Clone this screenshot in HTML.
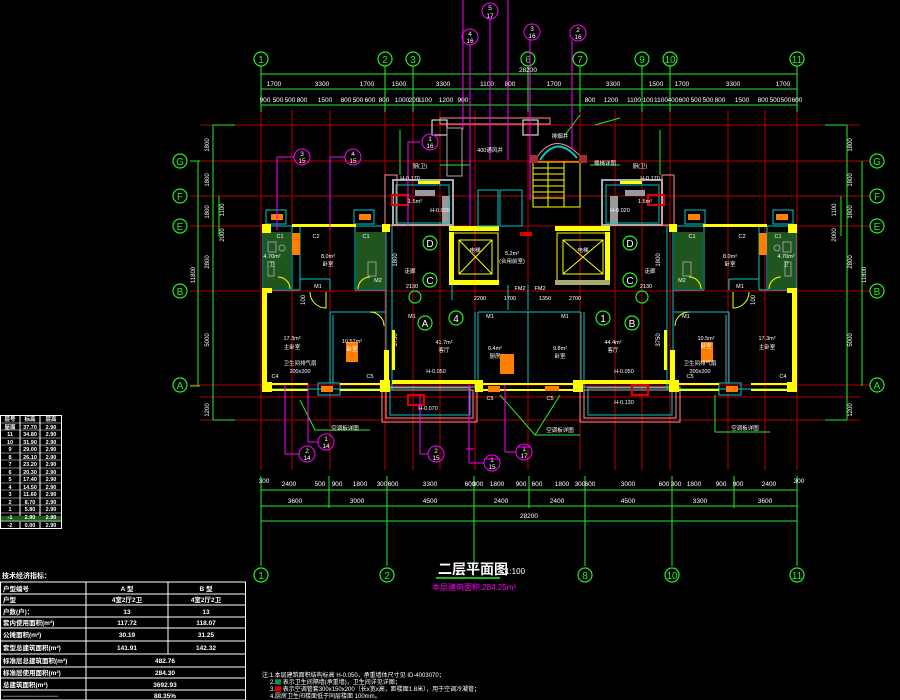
<!DOCTYPE html>
<html><head><meta charset="utf-8"><style>
html,body{margin:0;padding:0;background:#000;width:900px;height:700px;overflow:hidden}
svg{display:block}
text{font-family:"Liberation Sans","Noto Sans CJK SC",sans-serif;fill:#fff}
</style></head><body>
<svg width="900" height="700" viewBox="0 0 900 700" xmlns="http://www.w3.org/2000/svg">
<rect width="900" height="700" fill="#000"/>

<g stroke="#b40000" stroke-width="1">
<line x1="200" y1="125" x2="860" y2="125"/>
<line x1="190" y1="161" x2="870" y2="161"/>
<line x1="190" y1="196" x2="870" y2="196"/>
<line x1="190" y1="226" x2="870" y2="226"/>
<line x1="190" y1="291" x2="870" y2="291"/>
<line x1="190" y1="385" x2="870" y2="385"/>
<line x1="200" y1="397" x2="860" y2="397"/>
<line x1="200" y1="420" x2="860" y2="420"/>
<line x1="261" y1="110" x2="261" y2="470"/>
<line x1="292" y1="110" x2="292" y2="470"/>
<line x1="330" y1="110" x2="330" y2="470"/>
<line x1="385" y1="110" x2="385" y2="470"/>
<line x1="413" y1="110" x2="413" y2="470"/>
<line x1="440" y1="110" x2="440" y2="470"/>
<line x1="475" y1="110" x2="475" y2="470"/>
<line x1="528" y1="110" x2="528" y2="470"/>
<line x1="580" y1="110" x2="580" y2="470"/>
<line x1="615" y1="110" x2="615" y2="470"/>
<line x1="642" y1="110" x2="642" y2="470"/>
<line x1="670" y1="110" x2="670" y2="470"/>
<line x1="728" y1="110" x2="728" y2="470"/>
<line x1="765" y1="110" x2="765" y2="470"/>
<line x1="797" y1="110" x2="797" y2="470"/>
</g>

<g stroke="#22ee22" stroke-width="1" fill="none">
<line x1="261" y1="66" x2="261" y2="112"/><line x1="385" y1="66" x2="385" y2="112"/>
<line x1="413" y1="66" x2="413" y2="112"/><line x1="528" y1="66" x2="528" y2="112"/>
<line x1="580" y1="66" x2="580" y2="112"/><line x1="642" y1="66" x2="642" y2="112"/>
<line x1="670" y1="66" x2="670" y2="112"/><line x1="797" y1="66" x2="797" y2="112"/>
<line x1="261" y1="74" x2="797" y2="74"/>
<line x1="261" y1="89" x2="797" y2="89"/>
<line x1="261" y1="105" x2="797" y2="105"/>
<line x1="198" y1="161" x2="198" y2="386"/>
<line x1="213" y1="125" x2="213" y2="420"/>
<line x1="190" y1="161" x2="200" y2="161"/><line x1="190" y1="386" x2="200" y2="386"/>
<line x1="219" y1="196" x2="219" y2="236"/>
<line x1="213" y1="125" x2="235" y2="125"/><line x1="213" y1="420" x2="235" y2="420"/>
<line x1="862" y1="161" x2="862" y2="386"/>
<line x1="847" y1="125" x2="847" y2="420"/>
<line x1="841" y1="196" x2="841" y2="236"/>
<line x1="825" y1="125" x2="847" y2="125"/><line x1="825" y1="420" x2="847" y2="420"/>
<line x1="261" y1="476" x2="261" y2="566"/><line x1="387" y1="476" x2="387" y2="566"/>
<line x1="585" y1="476" x2="585" y2="566"/><line x1="672" y1="476" x2="672" y2="566"/>
<line x1="797" y1="476" x2="797" y2="566"/><line x1="474" y1="476" x2="474" y2="566"/>
<line x1="329" y1="476" x2="329" y2="508"/><line x1="529" y1="476" x2="529" y2="508"/>
<line x1="734" y1="476" x2="734" y2="508"/>
<line x1="261" y1="490" x2="797" y2="490"/>
<line x1="261" y1="506" x2="797" y2="506"/>
<line x1="261" y1="521" x2="797" y2="521"/>
<line x1="300" y1="400" x2="315" y2="430"/><line x1="315" y1="430" x2="370" y2="430"/>
<line x1="500" y1="395" x2="535" y2="435"/><line x1="560" y1="395" x2="535" y2="435"/><line x1="535" y1="435" x2="580" y2="435"/>
<line x1="715" y1="395" x2="715" y2="432"/><line x1="715" y1="432" x2="770" y2="432"/>
<line x1="565" y1="135" x2="580" y2="115"/><line x1="595" y1="125" x2="620" y2="118"/>
<line x1="400" y1="130" x2="400" y2="175"/><line x1="660" y1="130" x2="660" y2="175"/>
<line x1="440" y1="165" x2="470" y2="165"/><line x1="590" y1="165" x2="620" y2="165"/>
</g>

<g stroke="#22ee22" stroke-width="1.2" fill="none">
<circle cx="261" cy="59" r="7"/><circle cx="385" cy="59" r="7"/><circle cx="413" cy="59" r="7"/>
<circle cx="528" cy="59" r="7"/><circle cx="580" cy="59" r="7"/><circle cx="642" cy="59" r="7"/>
<circle cx="670" cy="59" r="7"/><circle cx="797" cy="59" r="7"/>
<circle cx="180" cy="161" r="7"/><circle cx="180" cy="196" r="7"/><circle cx="180" cy="226" r="7"/>
<circle cx="180" cy="291" r="7"/><circle cx="180" cy="385" r="7"/>
<circle cx="877" cy="161" r="7"/><circle cx="877" cy="196" r="7"/><circle cx="877" cy="226" r="7"/>
<circle cx="877" cy="291" r="7"/><circle cx="877" cy="385" r="7"/>
<circle cx="261" cy="575" r="7"/><circle cx="387" cy="575" r="7"/><circle cx="585" cy="575" r="7"/>
<circle cx="672" cy="575" r="7"/><circle cx="797" cy="575" r="7"/>
<circle cx="430" cy="243" r="7"/><circle cx="630" cy="243" r="7"/>
<circle cx="430" cy="280" r="7"/><circle cx="630" cy="280" r="7"/>
<circle cx="425" cy="323" r="7"/><circle cx="632" cy="323" r="7"/>
<circle cx="456" cy="318" r="7"/><circle cx="603" cy="318" r="7"/>
<circle cx="415" cy="297" r="6"/><circle cx="642" cy="297" r="6"/>
</g>
<g font-size="10" text-anchor="middle" style="fill:#22ee22">
<text x="261" y="63" style="fill:#22ee22">1</text><text x="385" y="63" style="fill:#22ee22">2</text><text x="413" y="63" style="fill:#22ee22">3</text>
<text x="528" y="63" style="fill:#22ee22">6</text><text x="580" y="63" style="fill:#22ee22">7</text><text x="642" y="63" style="fill:#22ee22">9</text>
<text x="670" y="63" style="fill:#22ee22">10</text><text x="797" y="63" style="fill:#22ee22">11</text>
<text x="180" y="165" style="fill:#22ee22">G</text><text x="180" y="200" style="fill:#22ee22">F</text><text x="180" y="230" style="fill:#22ee22">E</text>
<text x="180" y="295" style="fill:#22ee22">B</text><text x="180" y="389" style="fill:#22ee22">A</text>
<text x="877" y="165" style="fill:#22ee22">G</text><text x="877" y="200" style="fill:#22ee22">F</text><text x="877" y="230" style="fill:#22ee22">E</text>
<text x="877" y="295" style="fill:#22ee22">B</text><text x="877" y="389" style="fill:#22ee22">A</text>
<text x="261" y="579" style="fill:#22ee22">1</text><text x="387" y="579" style="fill:#22ee22">2</text><text x="585" y="579" style="fill:#22ee22">8</text>
<text x="672" y="579" style="fill:#22ee22">10</text><text x="797" y="579" style="fill:#22ee22">11</text>
<text x="430" y="247" style="fill:#fff">D</text><text x="630" y="247" style="fill:#fff">D</text>
<text x="430" y="284" style="fill:#fff">C</text><text x="630" y="284" style="fill:#fff">C</text>
<text x="425" y="327" style="fill:#fff">A</text><text x="632" y="327" style="fill:#fff">B</text>
<text x="456" y="322" style="fill:#fff">4</text><text x="603" y="322" style="fill:#fff">1</text>
</g>

<g font-size="6.5" text-anchor="middle">
<text x="528" y="72">28200</text>
<text x="274" y="86">1700</text><text x="322" y="86">3300</text><text x="367" y="86">1700</text><text x="399" y="86">1500</text>
<text x="443" y="86">3300</text><text x="487" y="86">1100</text><text x="510" y="86">800</text><text x="554" y="86">1700</text>
<text x="613" y="86">3300</text><text x="656" y="86">1500</text><text x="682" y="86">1700</text><text x="733" y="86">3300</text><text x="783" y="86">1700</text>
<text x="265" y="102">900</text><text x="278" y="102">500</text><text x="290" y="102">500</text><text x="302" y="102">800</text>
<text x="325" y="102">1500</text><text x="346" y="102">800</text><text x="358" y="102">500</text><text x="370" y="102">600</text>
<text x="384" y="102">800</text><text x="402" y="102">1000</text><text x="414" y="102">200</text><text x="425" y="102">1100</text>
<text x="446" y="102">1200</text><text x="463" y="102">900</text><text x="590" y="102">800</text><text x="611" y="102">1200</text>
<text x="634" y="102">1100</text><text x="648" y="102">100</text><text x="661" y="102">1100</text><text x="673" y="102">400</text>
<text x="684" y="102">600</text><text x="696" y="102">500</text><text x="708" y="102">500</text><text x="720" y="102">800</text>
<text x="742" y="102">1500</text><text x="763" y="102">800</text><text x="775" y="102">500</text><text x="786" y="102">500</text><text x="797" y="102">600</text>
<text x="264" y="483">300</text><text x="289" y="486">2400</text><text x="320" y="486">500</text><text x="337" y="486">900</text>
<text x="360" y="486">1800</text><text x="382" y="486">300</text><text x="393" y="486">600</text><text x="430" y="486">3300</text>
<text x="470" y="486">600</text><text x="478" y="486">300</text><text x="497" y="486">1800</text><text x="521" y="486">900</text>
<text x="537" y="486">600</text><text x="562" y="486">1800</text><text x="580" y="486">300</text><text x="590" y="486">600</text>
<text x="628" y="486">3000</text><text x="664" y="486">600</text><text x="676" y="486">300</text><text x="694" y="486">1800</text>
<text x="721" y="486">900</text><text x="738" y="486">900</text><text x="769" y="486">2400</text><text x="799" y="483">300</text>
<text x="295" y="503">3600</text><text x="357" y="503">3000</text><text x="430" y="503">4500</text><text x="501" y="503">2400</text>
<text x="557" y="503">2400</text><text x="628" y="503">4500</text><text x="700" y="503">3300</text><text x="765" y="503">3600</text>
<text x="529" y="518">28200</text>
</g>
<g font-size="6" text-anchor="middle">
<text transform="translate(209,145) rotate(-90)">1800</text><text transform="translate(209,180) rotate(-90)">1800</text>
<text transform="translate(209,212) rotate(-90)">1800</text><text transform="translate(209,262) rotate(-90)">2800</text>
<text transform="translate(209,340) rotate(-90)">5000</text><text transform="translate(209,410) rotate(-90)">1200</text>
<text transform="translate(195,275) rotate(-90)">11800</text>
<text transform="translate(224,210) rotate(-90)">1100</text><text transform="translate(224,235) rotate(-90)">2000</text>
<text transform="translate(852,145) rotate(-90)">1800</text><text transform="translate(852,180) rotate(-90)">1800</text>
<text transform="translate(852,212) rotate(-90)">1800</text><text transform="translate(852,262) rotate(-90)">2800</text>
<text transform="translate(852,340) rotate(-90)">5000</text><text transform="translate(852,410) rotate(-90)">1200</text>
<text transform="translate(866,275) rotate(-90)">11800</text>
<text transform="translate(836,210) rotate(-90)">1100</text><text transform="translate(836,235) rotate(-90)">2000</text>
<text transform="translate(397,260) rotate(-90)">1800</text><text transform="translate(660,260) rotate(-90)">1800</text>
<text transform="translate(397,340) rotate(-90)">3750</text><text transform="translate(660,340) rotate(-90)">3750</text>
<text transform="translate(305,300) rotate(-90)">100</text><text transform="translate(755,300) rotate(-90)">100</text>
</g>

<g fill="none" stroke-width="1">
<rect x="432" y="120" width="15" height="15" stroke="#fff"/>
<rect x="523" y="120" width="15" height="15" stroke="#fff"/>
<rect x="440" y="118" width="110" height="6" stroke="#ff9090"/>
<rect x="447" y="128" width="15" height="48" stroke="#aaa"/>
<path d="M535 160 Q 555 128 582 158" stroke="#ff9090"/>
<path d="M540 160 Q 557 134 577 158" stroke="#00c8c8" stroke-width="2"/>
<rect x="533" y="162" width="47" height="45" stroke="#ffff00"/>
</g>
<g stroke="#ffff00" stroke-width="1">
<line x1="533" y1="168" x2="564" y2="168"/><line x1="533" y1="174" x2="564" y2="174"/><line x1="533" y1="180" x2="564" y2="180"/>
<line x1="533" y1="186" x2="564" y2="186"/><line x1="533" y1="192" x2="564" y2="192"/><line x1="533" y1="198" x2="564" y2="198"/>
<line x1="548" y1="162" x2="548" y2="207"/><line x1="564" y1="162" x2="564" y2="207"/>
</g>
<rect x="530" y="155" width="8" height="8" fill="#a03030"/><rect x="579" y="155" width="8" height="8" fill="#a03030"/>
<g fill="none" stroke="#ffff00" stroke-width="1">
<rect x="453" y="233" width="45" height="48"/><rect x="459" y="240" width="33" height="34"/>
<line x1="459" y1="240" x2="492" y2="274"/><line x1="492" y1="240" x2="459" y2="274"/>
<rect x="557" y="233" width="52" height="48"/><rect x="563" y="240" width="40" height="34"/>
<line x1="563" y1="240" x2="603" y2="274"/><line x1="603" y1="240" x2="563" y2="274"/>
</g>
<rect x="449" y="232" width="5" height="50" fill="#ffff00"/><rect x="449" y="280" width="50" height="5" fill="#ffff00"/>
<rect x="605" y="232" width="5" height="50" fill="#ffff00"/><rect x="555" y="280" width="55" height="5" fill="#aaaa70"/>
<rect x="449" y="226" width="50" height="5" fill="#ffff00"/><rect x="555" y="226" width="55" height="5" fill="#ffff00"/>
<rect x="520" y="232" width="12" height="4" fill="#e00000"/>
<rect x="415" y="190" width="20" height="6" fill="#999"/><rect x="442" y="196" width="8" height="28" fill="#999"/>
<rect x="625" y="190" width="20" height="6" fill="#999"/><rect x="610" y="196" width="8" height="28" fill="#999"/>
<rect x="418" y="181" width="22" height="3" fill="#ffff00"/><rect x="620" y="181" width="22" height="3" fill="#ffff00"/>
<g fill="none" stroke="#aaa" stroke-width="2">
<rect x="393" y="180" width="60" height="45"/><rect x="602" y="180" width="60" height="45"/>
</g>
<g fill="none" stroke="#00c8c8" stroke-width="1">
<rect x="396" y="185" width="53" height="38"/><rect x="606" y="185" width="53" height="38"/>
<rect x="478" y="190" width="20" height="36"/><rect x="500" y="190" width="22" height="36"/>
<line x1="452" y1="285" x2="452" y2="300"/><line x1="508" y1="285" x2="508" y2="310"/><line x1="528" y1="285" x2="528" y2="310"/>
</g>
<g fill="none" stroke="#ff9090" stroke-width="1">
<rect x="385" y="175" width="12" height="50"/><rect x="662" y="175" width="12" height="50"/>
<rect x="382" y="387" width="95" height="35"/><rect x="386" y="390" width="87" height="28"/>
<rect x="580" y="387" width="100" height="35"/><rect x="584" y="390" width="92" height="28"/>
</g>
<g fill="none" stroke="#00c8c8" stroke-width="1">
<rect x="390" y="388" width="80" height="27"/><rect x="588" y="388" width="84" height="27"/>
</g>

<g id="unit">
<rect x="264" y="232" width="27" height="57" fill="#1e561e"/>
<rect x="356" y="232" width="29" height="57" fill="#1e561e"/>
<g fill="none" stroke="#00c8c8" stroke-width="1">
<rect x="263" y="226" width="123" height="163"/>
<line x1="300" y1="226" x2="300" y2="290"/>
<line x1="292" y1="226" x2="292" y2="290"/>
<line x1="355" y1="226" x2="355" y2="290"/>
<line x1="300" y1="279" x2="330" y2="279"/>
<line x1="330" y1="279" x2="330" y2="290"/>
<line x1="330" y1="312" x2="385" y2="312"/>
<line x1="330" y1="312" x2="330" y2="383"/>
<line x1="333" y1="315" x2="333" y2="383"/>
<line x1="263" y1="290" x2="300" y2="290"/>
<line x1="355" y1="290" x2="385" y2="290"/>
<rect x="266" y="210" width="20" height="14"/><rect x="354" y="210" width="20" height="14"/>
<rect x="318" y="383" width="22" height="12"/>
<line x1="392" y1="226" x2="392" y2="390"/><line x1="475" y1="312" x2="475" y2="390"/>
<line x1="478" y1="312" x2="478" y2="390"/>
</g>
<rect x="262" y="224" width="9" height="9" fill="#ffff00"/>
<rect x="262" y="288" width="5" height="100" fill="#ffff00"/>
<rect x="262" y="288" width="10" height="5" fill="#ffff00"/>
<rect x="292" y="224" width="64" height="3" fill="#ffff00"/>
<rect x="382" y="224" width="8" height="8" fill="#ffff00"/>
<rect x="384" y="350" width="5" height="38" fill="#ffff00"/>
<rect x="262" y="382" width="10" height="10" fill="#ffff00"/>
<rect x="268" y="383" width="40" height="2" fill="#ffff00"/><rect x="268" y="389" width="40" height="2" fill="#ffff00"/>
<rect x="340" y="383" width="42" height="2" fill="#ffff00"/><rect x="340" y="389" width="42" height="2" fill="#ffff00"/>
<rect x="380" y="380" width="10" height="12" fill="#ffff00"/>
<rect x="271" y="214" width="12" height="6" fill="#ff8000"/><rect x="359" y="214" width="12" height="6" fill="#ff8000"/>
<rect x="292" y="233" width="8" height="22" fill="#ff8000"/>
<rect x="346" y="342" width="12" height="20" fill="#ff8000"/>
<rect x="321" y="386" width="12" height="6" fill="#ff8000"/>
<g fill="none" stroke="#999" stroke-width="1">
<rect x="268" y="242" width="8" height="10"/><rect x="268" y="262" width="6" height="14"/>
<rect x="368" y="262" width="8" height="14"/><circle cx="282" cy="248" r="3"/>
</g>
<g fill="none" stroke="#ffff00" stroke-width="1">
<path d="M310 292 A16 16 0 0 0 326 308 L326 292"/>
<path d="M370 312 A14 14 0 0 1 384 326"/>
<path d="M290 289 A12 12 0 0 0 278 277"/>
<path d="M358 289 A12 12 0 0 1 370 277"/>
</g>
</g>
<use href="#unit" transform="translate(1059,0) scale(-1,1)"/>
<g fill="#ffff00">
<rect x="392" y="380" width="86" height="4"/><rect x="475" y="380" width="8" height="12"/>
<rect x="483" y="383" width="90" height="2"/><rect x="483" y="389" width="90" height="2"/>
<rect x="573" y="380" width="10" height="12"/><rect x="583" y="380" width="86" height="4"/>
<rect x="392" y="330" width="3" height="40"/><rect x="664" y="330" width="3" height="40"/>
</g>
<g fill="none" stroke="#00c8c8"><line x1="478" y1="312" x2="580" y2="312"/><line x1="528" y1="312" x2="528" y2="383"/></g>
<rect x="500" y="354" width="14" height="20" fill="#ff8000"/>
<rect x="488" y="386" width="12" height="6" fill="#ff8000"/><rect x="545" y="386" width="14" height="5" fill="#ff8000"/>
<rect x="408" y="395" width="16" height="10" fill="none" stroke="#e00000" stroke-width="2"/>
<rect x="632" y="385" width="16" height="10" fill="none" stroke="#e00000" stroke-width="2"/>
<rect x="392" y="195" width="16" height="10" fill="none" stroke="#e00000" stroke-width="2"/>
<rect x="648" y="195" width="16" height="10" fill="none" stroke="#e00000" stroke-width="2"/>

<g stroke="#ff00ff" stroke-width="1" fill="none">
<line x1="490" y1="18" x2="490" y2="160"/><line x1="470" y1="45" x2="470" y2="225"/>
<line x1="508" y1="0" x2="508" y2="160"/><line x1="530" y1="40" x2="530" y2="200"/>
<line x1="572" y1="40" x2="572" y2="150"/><line x1="463" y1="0" x2="463" y2="130"/>
<circle cx="490" cy="11" r="8"/><circle cx="470" cy="37" r="8"/><circle cx="532" cy="32" r="8"/><circle cx="578" cy="33" r="8"/>
<circle cx="430" cy="142" r="8"/>
<circle cx="302" cy="157" r="8"/><circle cx="353" cy="157" r="8"/>
<line x1="294" y1="157" x2="277" y2="157"/><line x1="277" y1="157" x2="277" y2="230"/>
<line x1="345" y1="157" x2="330" y2="157"/><line x1="330" y1="157" x2="330" y2="230"/>
<circle cx="307" cy="454" r="8"/><circle cx="326" cy="442" r="8"/><circle cx="436" cy="454" r="8"/>
<circle cx="492" cy="463" r="8"/><circle cx="524" cy="452" r="8"/>
<line x1="299" y1="454" x2="285" y2="454"/><line x1="285" y1="454" x2="285" y2="385"/>
<line x1="318" y1="442" x2="308" y2="442"/><line x1="308" y1="442" x2="308" y2="385"/>
<line x1="428" y1="454" x2="420" y2="454"/><line x1="420" y1="454" x2="420" y2="395"/>
<line x1="484" y1="463" x2="469" y2="463"/><line x1="469" y1="463" x2="469" y2="385"/>
<line x1="516" y1="452" x2="505" y2="452"/><line x1="505" y1="452" x2="505" y2="385"/>
<line x1="420" y1="142" x2="408" y2="142"/><line x1="408" y1="142" x2="408" y2="225"/>
</g>
<g font-size="6.5" text-anchor="middle" style="fill:#fff">
<text x="490" y="10">5</text><text x="490" y="18">17</text>
<text x="470" y="36">4</text><text x="470" y="43">16</text>
<text x="532" y="31">3</text><text x="532" y="38">16</text>
<text x="578" y="32">2</text><text x="578" y="39">16</text>
<text x="430" y="141">1</text><text x="430" y="148">16</text>
<text x="302" y="156">3</text><text x="302" y="163">15</text>
<text x="353" y="156">4</text><text x="353" y="163">15</text>
<text x="307" y="453">2</text><text x="307" y="460">14</text>
<text x="326" y="441">1</text><text x="326" y="448">14</text>
<text x="436" y="453">2</text><text x="436" y="460">15</text>
<text x="492" y="462">1</text><text x="492" y="469">15</text>
<text x="524" y="451">1</text><text x="524" y="458">17</text>
</g>
<g stroke="#ff00ff" stroke-width="1"><line x1="466" y1="449" x2="474" y2="449"/><line x1="518" y1="447" x2="530" y2="447"/><line x1="486" y1="459" x2="498" y2="459"/></g>

<g font-size="5.5" text-anchor="middle">
<text x="292" y="340">17.3m²</text><text x="292" y="349">主卧室</text>
<text x="352" y="343">10.57m²</text><text x="352" y="351">卧室</text>
<text x="328" y="258">8.0m²</text><text x="328" y="266">卧室</text>
<text x="444" y="344">41.7m²</text><text x="444" y="352">客厅</text>
<text x="495" y="350">6.4m²</text><text x="495" y="358">厨房</text>
<text x="560" y="350">9.8m²</text><text x="560" y="358">卧室</text>
<text x="613" y="344">44.4m²</text><text x="613" y="352">客厅</text>
<text x="706" y="340">10.5m²</text><text x="706" y="348">卧室</text>
<text x="767" y="340">17.3m²</text><text x="767" y="349">主卧室</text>
<text x="730" y="258">8.0m²</text><text x="730" y="266">卧室</text>
<text x="512" y="255">5.2m²</text><text x="512" y="263">(合用前室)</text>
<text x="475" y="252">电梯</text><text x="583" y="252">电梯</text>
<text x="412" y="288">2130</text><text x="646" y="288">2130</text>
<text x="300" y="365">卫生间排气扇</text><text x="300" y="373">200x200</text>
<text x="700" y="365">卫生间排气扇</text><text x="700" y="373">200x200</text>
<text x="436" y="373">H-0.050</text><text x="624" y="373">H-0.050</text>
<text x="428" y="410">H-0.070</text><text x="624" y="404">H-0.130</text>
<text x="345" y="430">空调板详图</text><text x="560" y="432">空调板详图</text><text x="745" y="430">空调板详图</text>
<text x="480" y="300">2200</text><text x="510" y="300">1700</text><text x="545" y="300">1350</text><text x="575" y="300">2700</text>
<text x="490" y="152">400通风井</text><text x="560" y="138">排烟井</text><text x="605" y="165">楼梯详图</text>
<text x="410" y="180">H-0.170</text><text x="650" y="180">H-0.170</text>
<text x="440" y="212">H-0.020</text><text x="620" y="212">H-0.020</text>
<text x="420" y="168">厨(卫)</text><text x="640" y="168">厨(卫)</text>
<text x="415" y="203">1.5m²</text><text x="645" y="203">1.5m²</text>
<text x="410" y="273">走廊</text><text x="650" y="273">走廊</text>
<text x="280" y="238">C1</text><text x="316" y="238">C2</text><text x="366" y="238">C1</text>
<text x="692" y="238">C1</text><text x="742" y="238">C2</text><text x="778" y="238">C1</text>
<text x="275" y="378">C4</text><text x="370" y="378">C5</text><text x="690" y="378">C5</text><text x="783" y="378">C4</text>
<text x="318" y="288">M1</text><text x="378" y="282">M2</text><text x="740" y="288">M1</text><text x="682" y="282">M2</text>
<text x="412" y="318">M1</text><text x="490" y="318">M1</text><text x="565" y="318">M1</text><text x="686" y="318">M1</text>
<text x="272" y="258">4.70m²</text><text x="272" y="266">卫</text><text x="786" y="258">4.70m²</text><text x="786" y="266">卫</text>
<text x="490" y="400">C5</text><text x="550" y="400">C5</text>
<text x="520" y="290">FM2</text><text x="540" y="290">FM2</text>
</g>

<text x="438" y="574" font-size="14" font-weight="bold">二层平面图</text>
<text x="505" y="574" font-size="8">1:100</text>
<line x1="436" y1="578" x2="500" y2="578" stroke="#22ee22" stroke-width="1.5"/>
<text x="432" y="590" font-size="8" style="fill:#ff00ff">本层建筑面积:284.25m²</text>

<g font-size="6">
<text x="262" y="677">注:1.本层建筑面积结构标高 H-0.050，承重墙体尺寸见 ID-4003070；</text>
<text x="270" y="684">2.<tspan style="fill:#1e8a5a">▇</tspan> 表示卫生间隔墙(承重墙)，卫生间详见详图；</text>
<text x="270" y="691">3.<tspan style="fill:#e00000">▇</tspan> 表示空调管套300x150x200（长x宽x高，距楼面1.8米），用于空调冷凝管；</text>
<text x="270" y="698">4.厨房卫生间楼面低于同层楼面 100mm。</text>
</g>

<g stroke="#fff" stroke-width="1" fill="none">
<rect x="0.5" y="415.5" width="61" height="113"/>
<line x1="20" y1="415" x2="20" y2="528"/><line x1="40" y1="415" x2="40" y2="528"/>
</g>
<rect x="1" y="516" width="60" height="6" fill="#1e5a1e"/>
<g stroke="#fff" stroke-width="0.6">
<line x1="0" y1="423" x2="62" y2="423"/><line x1="0" y1="430" x2="62" y2="430"/><line x1="0" y1="438" x2="62" y2="438"/>
<line x1="0" y1="445" x2="62" y2="445"/><line x1="0" y1="453" x2="62" y2="453"/><line x1="0" y1="460" x2="62" y2="460"/>
<line x1="0" y1="468" x2="62" y2="468"/><line x1="0" y1="475" x2="62" y2="475"/><line x1="0" y1="483" x2="62" y2="483"/>
<line x1="0" y1="490" x2="62" y2="490"/><line x1="0" y1="498" x2="62" y2="498"/><line x1="0" y1="505" x2="62" y2="505"/>
<line x1="0" y1="513" x2="62" y2="513"/><line x1="0" y1="521" x2="62" y2="521"/>
</g>
<g font-size="5.5" text-anchor="middle" font-weight="bold">
<text x="10" y="421">层号</text><text x="30" y="421">标高</text><text x="51" y="421">层高</text>
<text x="10" y="429">屋面</text><text x="30" y="429">37.70</text><text x="51" y="429">2.90</text>
<text x="10" y="436">11</text><text x="30" y="436">34.80</text><text x="51" y="436">2.90</text>
<text x="10" y="444">10</text><text x="30" y="444">31.90</text><text x="51" y="444">2.90</text>
<text x="10" y="451">9</text><text x="30" y="451">29.00</text><text x="51" y="451">2.90</text>
<text x="10" y="459">8</text><text x="30" y="459">26.10</text><text x="51" y="459">2.90</text>
<text x="10" y="466">7</text><text x="30" y="466">23.20</text><text x="51" y="466">2.90</text>
<text x="10" y="474">6</text><text x="30" y="474">20.30</text><text x="51" y="474">2.90</text>
<text x="10" y="481">5</text><text x="30" y="481">17.40</text><text x="51" y="481">2.90</text>
<text x="10" y="489">4</text><text x="30" y="489">14.50</text><text x="51" y="489">2.90</text>
<text x="10" y="496">3</text><text x="30" y="496">11.60</text><text x="51" y="496">2.90</text>
<text x="10" y="504">2</text><text x="30" y="504">8.70</text><text x="51" y="504">2.90</text>
<text x="10" y="511">1</text><text x="30" y="511">5.80</text><text x="51" y="511">2.90</text>
<text x="10" y="519">-1</text><text x="30" y="519">2.90</text><text x="51" y="519">2.90</text>
<text x="10" y="527">-2</text><text x="30" y="527">0.00</text><text x="51" y="527">2.90</text>
</g>

<text x="2" y="578" font-size="7" font-weight="bold">技术经济指标：</text>
<g stroke="#fff" stroke-width="1" fill="none">
<rect x="0.5" y="582" width="245" height="118"/>
<line x1="0" y1="594" x2="245" y2="594"/><line x1="0" y1="605" x2="245" y2="605"/>
<line x1="0" y1="617" x2="245" y2="617"/><line x1="0" y1="628" x2="245" y2="628"/>
<line x1="0" y1="641" x2="245" y2="641"/><line x1="0" y1="654" x2="245" y2="654"/>
<line x1="0" y1="667" x2="245" y2="667"/><line x1="0" y1="678" x2="245" y2="678"/>
<line x1="0" y1="690" x2="245" y2="690"/>
<line x1="86" y1="582" x2="86" y2="700"/><line x1="168" y1="582" x2="168" y2="654"/>
</g>
<g font-size="6.5" font-weight="bold">
<text x="3" y="591">户型编号</text><text x="3" y="602">户型</text><text x="3" y="614">户数(户)：</text>
<text x="3" y="625">套内使用面积(m²)</text><text x="3" y="637">公摊面积(m²)</text>
<text x="3" y="650">套型总建筑面积(m²)</text><text x="3" y="663">标准层总建筑面积(m²)</text>
<text x="3" y="675">标准层使用面积(m²)</text><text x="3" y="687">总建筑面积(m²)</text>
<text x="3" y="698">────────────</text>
</g>
<g font-size="6.5" text-anchor="middle" font-weight="bold">
<text x="127" y="591">A 型</text><text x="206" y="591">B 型</text>
<text x="127" y="602">4室2厅2卫</text><text x="206" y="602">4室2厅2卫</text>
<text x="127" y="614">13</text><text x="206" y="614">13</text>
<text x="127" y="625">117.72</text><text x="206" y="625">118.07</text>
<text x="127" y="637">30.19</text><text x="206" y="637">31.25</text>
<text x="127" y="650">141.91</text><text x="206" y="650">142.32</text>
<text x="165" y="663">482.76</text><text x="165" y="675">284.30</text>
<text x="165" y="687">3692.93</text><text x="165" y="698">88.35%</text>
</g>
</svg>
</body></html>
